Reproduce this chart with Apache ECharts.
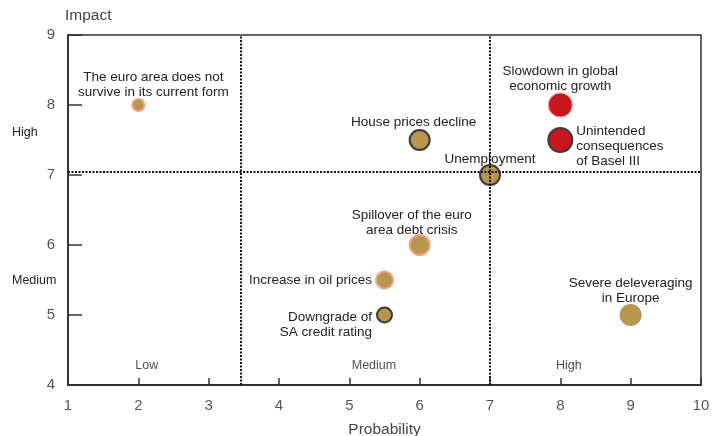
<!DOCTYPE html>
<html>
<head>
<meta charset="utf-8">
<script src="https://cdn.jsdelivr.net/npm/echarts@6/dist/echarts.min.js"></script>
<style>
  html, body { margin: 0; padding: 0; background: #fff; }
  #chart { width: 725px; height: 436px; }
</style>
</head>
<body>
<div id="chart"></div>
<script>
// risk names, probability (x) and impact (y)
let risks = [
  'The euro area does not\nsurvive in its current form',
  'House prices decline',
  'Unemployment',
  'Slowdown in global\neconomic growth',
  'Unintended\nconsequences\nof Basel III',
  'Spillover of the euro\narea debt crisis',
  'Increase in oil prices',
  'Downgrade of\nSA credit rating',
  'Severe deleveraging\nin Europe'
];
let probability = [2, 6, 7, 8, 8, 6, 5.5, 5.5, 9];
let impact = [8, 7.5, 7, 8, 7.5, 6, 5.5, 5, 5];

let xTicks = [1, 2, 3, 4, 5, 6, 7, 8, 9, 10];
let yTicks = [4, 5, 6, 7, 8, 9];
let probBands = ['Low', 'Medium', 'High'];
let probBandAt = [2.12, 5.35, 8.12];
let bandLine = [3.45, 7];
let impactLine = [7.05];

// per-point look: fill, outline, size, label placement
const TAN = '#b8974c';
const RED = '#c8161f';
const DARK = '#3a3a3a';
const PINK = '#f1a086';
let looks = [
  {fill: TAN, edge: PINK, size: 12, pos: 'top', dist: 2, off: [15, 4]},
  {fill: TAN, edge: DARK, size: 20, pos: 'top', dist: 2, off: [-6, 3]},
  {fill: TAN, edge: DARK, size: 20, pos: 'top', dist: 0, off: [0, 3]},
  {fill: RED, edge: '#e8a0a0', size: 24, pos: 'top', dist: 2, off: [0, 3], thin: true},
  {fill: RED, edge: DARK, size: 24, pos: 'right', dist: 3, off: [0, 6]},
  {fill: TAN, edge: PINK, size: 20, pos: 'top', dist: 1, off: [-8, 5]},
  {fill: TAN, edge: PINK, size: 17, pos: 'left', dist: 3, off: [0, 0]},
  {fill: TAN, edge: DARK, size: 15, pos: 'left', dist: 4, off: [0, 10]},
  {fill: TAN, edge: TAN, size: 20, pos: 'top', dist: 2, off: [0, 4]}
];

let font = '"Liberation Sans", Arial, sans-serif';

let points = risks.map((name, i) => {
  let l = looks[i];
  return {
    name: name,
    value: [probability[i], impact[i]],
    symbolSize: l.size,
    itemStyle: {
      color: l.fill,
      borderColor: l.edge,
      borderWidth: l.thin ? 1 : 2,
      opacity: 1
    },
    label: {
      show: true,
      position: l.pos,
      distance: l.dist,
      offset: l.off,
      formatter: '{b}',
      align: l.pos === 'right' ? 'left' : (l.pos === 'left' ? 'right' : 'center'),
      lineHeight: 15
    }
  };
});

let bandPoints = probBands.map((b, i) => ({name: b, value: [probBandAt[i], 4.28]}));

let chart = echarts.init(document.getElementById('chart'));

chart.setOption({
  animation: false,
  textStyle: {fontFamily: font},
  grid: {
    left: 68, right: 24, top: 35, bottom: 51,
    outerBoundsMode: 'none',
    containLabel: false,
    show: true, borderColor: '#333', borderWidth: 1.5
  },
  xAxis: {
    type: 'value',
    min: xTicks[0], max: xTicks[xTicks.length - 1], interval: 1,
    name: 'Probability',
    nameLocation: 'middle', nameGap: 37,
    nameTextStyle: {fontSize: 15.5, color: '#444'},
    axisLine: {lineStyle: {color: '#333', width: 2}},
    axisTick: {inside: true, length: 7, lineStyle: {color: '#333', width: 1.5}},
    axisLabel: {fontSize: 15, color: '#555', margin: 13},
    splitLine: {show: false}
  },
  yAxis: {
    type: 'value',
    min: yTicks[0], max: yTicks[yTicks.length - 1], interval: 1,
    name: 'Impact',
    nameLocation: 'end', nameGap: 11,
    nameTextStyle: {fontSize: 15.5, color: '#444', align: 'left', padding: [0, 0, 0, -3]},
    axisLine: {lineStyle: {color: '#333', width: 2}},
    axisTick: {inside: true, length: 14, lineStyle: {color: '#333', width: 1.5}},
    axisLabel: {fontSize: 15, color: '#555', margin: 13},
    splitLine: {show: false}
  },
  graphic: [
    {type: 'text', left: 12, top: 126, style: {text: 'High', fontSize: 12.5, fill: '#222', fontFamily: font}},
    {type: 'text', left: 12, top: 274, style: {text: 'Medium', fontSize: 12.5, fill: '#222', fontFamily: font}}
  ],
  series: [
    {
      type: 'scatter',
      data: points,
      label: {fontSize: 13.5, color: '#222'},
      markLine: {
        silent: true,
        symbol: 'none',
        label: {show: false},
        lineStyle: {type: [2, 1.5], color: '#111', width: 2},
        data: bandLine.map(v => ({xAxis: v})).concat(impactLine.map(v => ({yAxis: v})))
      },
      z: 3
    },
    {
      type: 'scatter',
      data: bandPoints,
      symbolSize: 0,
      label: {
        show: true, position: 'inside', formatter: '{b}',
        fontSize: 12.5, color: '#222'
      },
      silent: true
    }
  ]
});
</script>
</body>
</html>
